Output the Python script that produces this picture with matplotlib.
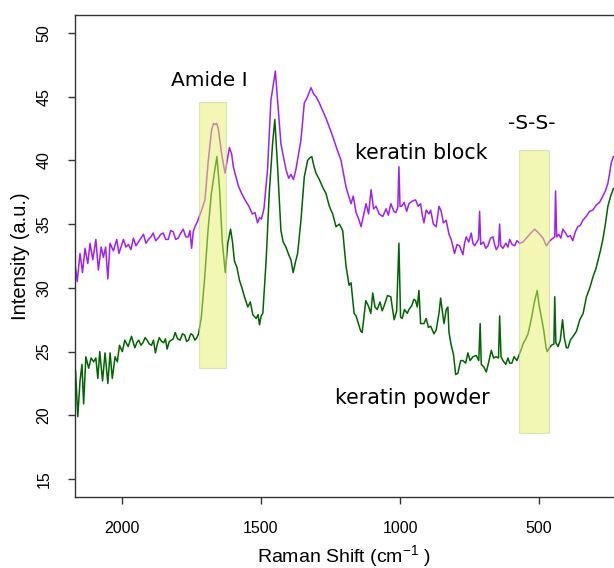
import matplotlib.pyplot as plt
from matplotlib.patches import Rectangle

plt.rcParams['font.family'] = ['Liberation Sans', 'DejaVu Sans']
plt.rcParams['mathtext.default'] = 'regular'

# keratin block (purple)
block_x = [2168, 2160, 2150, 2141, 2132, 2122, 2114, 2104, 2093, 2084, 2074, 2066, 2058, 2050, 2042,
           2030, 2018, 2010, 1994, 1985, 1976, 1967, 1958, 1949, 1940, 1931, 1922, 1913, 1904, 1895,
           1887, 1878, 1869, 1860, 1851, 1842, 1833, 1824, 1815, 1806, 1797, 1788, 1779, 1770, 1761,
           1755, 1749, 1743, 1737, 1728, 1713, 1701, 1689, 1677, 1670, 1665, 1659, 1653, 1641, 1629,
           1613, 1605, 1599, 1581, 1569, 1557, 1543, 1531, 1521, 1512, 1505, 1498, 1489, 1476, 1464,
           1448, 1440, 1428, 1410, 1400, 1392, 1383, 1374, 1356, 1344, 1332, 1320, 1310, 1302, 1290,
           1278, 1266, 1254, 1242, 1230, 1212, 1194, 1176, 1168, 1158, 1150, 1140, 1132, 1122, 1113,
           1104, 1095, 1086, 1075, 1062, 1050, 1042, 1033, 1022, 1015, 1008, 1004, 1000, 994, 985,
           976, 968, 956, 944, 935, 926, 920, 914, 906, 896, 890, 880, 870, 860, 852,
           844, 834, 824, 816, 804, 795, 786, 774, 768, 762, 753, 744, 738, 732, 718,
           714, 710, 700, 692, 684, 675, 666, 660, 654, 646, 642, 638, 630, 620, 612,
           606, 597, 588, 580, 570, 558, 546, 530, 516, 506, 498, 486, 474, 465, 456,
           444, 441, 437, 430, 422, 415, 405, 397, 388, 379, 370, 361, 352, 343, 331,
           319, 307, 295, 283, 271, 262, 253, 245, 241, 233]
block_y = [31.9, 30.5, 32.7, 31.2, 33.1, 31.9, 33.5, 32.2, 33.8, 31.4, 33.2, 32.4, 33.2, 30.7, 33.5,
           32.9, 33.8, 32.7, 33.8, 33.2, 33.4, 33.0, 33.9, 33.3, 33.6, 33.9, 34.2, 33.5, 33.8, 34.0,
           34.3, 33.7, 33.9, 34.2, 34.3, 33.8, 33.8, 34.5, 34.4, 33.8, 33.9, 34.3, 34.6, 34.0, 34.0,
           34.5, 33.1, 34.4, 34.8, 35.2, 36.1, 36.9, 40.0, 42.4, 42.9, 42.8, 42.9, 42.5, 40.5, 39.0,
           41.0, 40.5, 39.5, 38.0, 37.4, 36.9, 36.4, 35.8, 35.9, 35.1, 35.5, 35.4, 36.2, 39.3, 44.7,
           47.0, 44.7, 41.3, 39.3, 38.6, 38.9, 38.5, 39.3, 41.6, 44.5, 45.0, 45.7, 45.2, 45.0, 44.5,
           43.9, 43.3, 42.6, 41.9, 41.1, 40.0, 37.9, 36.6, 37.2, 35.9, 35.5, 34.8, 35.6, 36.6, 35.8,
           37.7, 36.2, 36.4, 35.8, 35.6, 36.2, 35.7, 36.6, 36.0, 35.9, 36.3, 39.5, 36.4, 36.4, 36.7,
           36.0, 36.6, 36.8, 36.9, 36.4, 36.6, 35.7, 35.1, 36.1, 35.8, 36.1, 35.0, 34.8, 36.4, 36.0,
           35.1, 35.3, 34.2, 33.8, 32.7, 33.4, 33.3, 32.6, 33.5, 34.0, 33.6, 34.3, 33.5, 33.3, 33.8,
           36.0, 33.4, 33.6, 33.1, 33.3, 33.9, 34.0, 33.4, 33.0, 33.3, 35.0, 33.3, 33.1, 33.5, 33.2,
           33.8, 33.4, 33.3, 33.7, 33.5, 33.6, 33.9, 34.3, 34.6, 34.4, 34.2, 33.9, 33.3, 33.6, 33.8,
           34.0, 37.6, 34.0, 34.2, 33.9, 34.6, 34.3, 34.0, 34.1, 33.7, 34.4, 34.8, 34.9, 35.3, 35.6,
           36.0, 36.1, 36.5, 36.7, 37.2, 37.6, 38.2, 39.2, 39.8, 40.3]

# keratin powder (green)
powder_x = [2166, 2158, 2150, 2143, 2137, 2129, 2119, 2110, 2101, 2093, 2086, 2079, 2069, 2060, 2050,
            2042, 2034, 2024, 2016, 2008, 1998, 1989, 1977, 1965, 1953, 1946, 1939, 1931, 1924, 1916,
            1909, 1901, 1893, 1886, 1879, 1872, 1865, 1857, 1849, 1843, 1837, 1829, 1822, 1815, 1808,
            1799, 1790, 1782, 1774, 1767, 1760, 1752, 1745, 1737, 1730, 1724, 1714, 1702, 1690, 1678,
            1666, 1658, 1648, 1639, 1628, 1619, 1609, 1602, 1595, 1586, 1577, 1568, 1559, 1547, 1538,
            1529, 1517, 1510, 1505, 1499, 1493, 1481, 1470, 1458, 1450, 1440, 1428, 1420, 1410, 1400,
            1392, 1384, 1376, 1368, 1356, 1344, 1332, 1324, 1317, 1310, 1302, 1290, 1278, 1266, 1254,
            1242, 1230, 1218, 1206, 1194, 1183, 1176, 1165, 1158, 1141, 1136, 1123, 1114, 1105, 1098,
            1090, 1082, 1072, 1064, 1057, 1045, 1033, 1028, 1021, 1012, 1004, 998, 992, 984, 974,
            968, 958, 950, 944, 938, 932, 926, 914, 906, 898, 890, 878, 870, 860, 854,
            848, 842, 834, 828, 824, 816, 808, 800, 792, 782, 774, 764, 756, 748, 738,
            726, 717, 712, 708, 699, 690, 680, 672, 664, 654, 646, 642, 637, 630, 620,
            612, 606, 598, 590, 580, 571, 564, 558, 548, 540, 534, 526, 516, 507, 500,
            492, 483, 475, 471, 463, 456, 447, 444, 440, 432, 424, 416, 409, 402, 396,
            388, 378, 366, 354, 342, 330, 318, 306, 296, 288, 280, 271, 262, 253, 243, 233]
powder_y = [23.5, 19.9, 22.7, 24.0, 20.9, 24.6, 23.7, 24.5, 24.2, 24.5, 22.9, 25.0, 22.7, 24.9, 22.5,
            24.9, 22.9, 24.6, 24.2, 25.5, 25.0, 25.9, 25.4, 26.2, 25.3, 25.7, 25.9, 25.5, 25.7, 26.1,
            25.9, 25.6, 25.5, 25.9, 24.9, 25.6, 26.1, 25.8, 25.7, 26.0, 25.2, 25.8, 25.9, 26.0, 26.5,
            26.0, 25.9, 26.4, 26.3, 25.8, 25.9, 26.4, 26.3, 25.9, 26.1, 26.4, 27.7, 30.8, 34.5, 37.4,
            39.2, 40.3, 37.6, 33.7, 31.2, 33.5, 34.6, 33.6, 32.1, 31.6, 30.6, 30.0, 29.3, 28.5, 28.9,
            27.9, 27.6, 27.9, 27.1, 27.8, 28.0, 32.2, 37.4, 41.3, 43.2, 39.5, 34.5, 33.6, 33.2, 32.6,
            32.2, 31.2, 32.0, 32.7, 35.3, 38.7, 40.0, 40.2, 40.3, 39.6, 39.0, 38.5, 37.9, 37.4, 36.4,
            35.8, 34.8, 35.0, 34.5, 31.7, 30.2, 30.4, 28.0, 27.8, 26.6, 26.5, 29.0, 28.6, 28.0, 29.6,
            28.5, 28.3, 28.9, 28.2, 28.6, 29.4, 29.3, 28.5, 27.5, 28.2, 33.5, 27.7, 27.6, 28.3, 28.0,
            28.3, 28.6, 29.1, 29.0, 28.5, 29.8, 27.2, 27.2, 27.6, 26.9, 27.0, 26.4, 26.7, 28.0, 29.2,
            28.2, 27.2, 28.3, 28.5, 26.5, 25.5, 24.8, 23.2, 23.3, 24.3, 24.3, 24.1, 24.9, 24.3, 24.6,
            24.7, 24.3, 27.2, 24.0, 23.8, 23.4, 24.3, 25.1, 24.5, 24.6, 24.5, 27.8, 24.6, 24.3, 24.0,
            24.5, 24.1, 24.1, 24.6, 24.3, 24.8, 25.2, 25.6, 26.0, 26.4, 26.95, 27.8, 29.0, 29.8, 28.6,
            27.7, 26.6, 25.3, 25.0, 25.3, 25.5, 25.6, 29.3, 25.7, 25.4, 25.9, 27.5, 26.0, 25.3, 25.3,
            25.9, 26.2, 26.6, 27.5, 28.0, 29.3, 30.0, 30.9, 31.5, 32.2, 32.9, 33.8, 35.0, 36.4, 37.2, 37.8]

# highlighted bands: (x_left, x_right, y_bottom, y_top)
bands = [(1724, 1627, 23.7, 44.6), (572, 464, 18.6, 40.8)]

fig = plt.figure(figsize=(6.14, 5.68), dpi=100)
ax = fig.add_axes([75 / 614, 1 - 497 / 568, 1 - 75 / 614, 482 / 568])

ax.plot(block_x, block_y, color='#a020f0', lw=1.1)
ax.plot(powder_x, powder_y, color='#006400', lw=1.1)

for x0, x1, y0, y1 in bands:
    ax.add_patch(Rectangle((x1, y0), x0 - x1, y1 - y0, facecolor='#e7f16b', alpha=0.5,
                           edgecolor='#c8cc90', lw=0.8, zorder=3))

ax.text(1685, 46.3, 'Amide I', fontsize=14.5, family='DejaVu Sans', ha='center', va='center')
ax.text(525, 42.9, '-S-S-', fontsize=14.5, family='DejaVu Sans', ha='center', va='center')
ax.text(925, 40.6, 'keratin block', fontsize=14.8, family='DejaVu Sans', ha='center', va='center')
ax.text(955, 21.4, 'keratin powder', fontsize=14.8, family='DejaVu Sans', ha='center', va='center')

ax.set_xlim(2168, 231)
ax.set_ylim(13.6, 51.4)
ax.set_xticks([2000, 1500, 1000, 500])
ax.set_yticks([15, 20, 25, 30, 35, 40, 45, 50])

ax.spines['right'].set_visible(False)
for s in ['left', 'top', 'bottom']:
    ax.spines[s].set_color('#333333')
    ax.spines[s].set_linewidth(1.0)

ax.tick_params(length=5, width=1.0, color='#333333', labelsize=11.5, pad=12)
ax.tick_params(axis='y', labelrotation=90)
for lbl in ax.get_yticklabels():
    lbl.set_va('center')

ax.set_xlabel('Raman Shift (cm$^{-1}$ )', fontsize=14)
ax.xaxis.set_label_coords(0.5, (497 - 556) / 482)
ax.xaxis.label.set_va('center')
ax.set_ylabel('Intensity (a.u.)', fontsize=14.5)
ax.yaxis.set_label_coords((21 - 75) / 539, 0.5)
ax.yaxis.label.set_va('center')

fig.savefig('out.png', dpi=100)
